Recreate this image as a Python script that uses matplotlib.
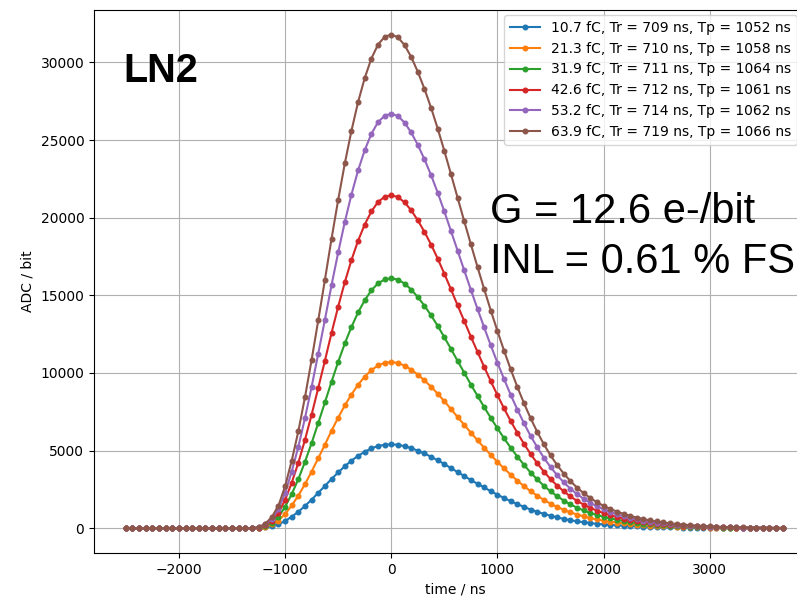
import matplotlib.pyplot as plt
import numpy as np

# sampling grid: 62.5 ns steps, 100 samples from -2500 ns
t_start = -2500
t_step = 62.5
n_samples = 100

labels = [
    '10.7 fC, Tr = 709 ns, Tp = 1052 ns',
    '21.3 fC, Tr = 710 ns, Tp = 1058 ns',
    '31.9 fC, Tr = 711 ns, Tp = 1064 ns',
    '42.6 fC, Tr = 712 ns, Tp = 1061 ns',
    '53.2 fC, Tr = 714 ns, Tp = 1062 ns',
    '63.9 fC, Tr = 719 ns, Tp = 1066 ns',
]

baseline = [0, 0, 0, 0, 0, 0, 0, 0, 0, 0, 0, 0, 0, 0, 0, 0, 0, 0, 0, 0]

adc_10p7 = baseline + [
    10, 50, 120, 250, 460, 740, 1060, 1430, 1840, 2280, 2720, 3170, 3590, 3990,
    4350, 4660, 4920, 5140, 5290, 5370, 5400, 5370, 5280, 5160, 4990, 4810,
    4600, 4370, 4130, 3870, 3610, 3360, 3100, 2860, 2620, 2380, 2160, 1940,
    1740, 1550, 1370, 1200, 1050, 920, 800, 690, 600, 510, 440, 380, 330, 280,
    240, 210, 180, 160, 130, 120, 100, 80, 70, 60, 50, 50, 40, 30, 30, 20, 20,
    20, 10, 10, 10, 10, 10, 10, 0, 0, 0, 0]

adc_21p3 = baseline + [
    20, 90, 240, 490, 910, 1460, 2100, 2840, 3650, 4510, 5380, 6280, 7120, 7910,
    8610, 9240, 9760, 10180, 10480, 10650, 10700, 10640, 10470, 10220, 9890,
    9520, 9110, 8660, 8180, 7670, 7160, 6650, 6150, 5660, 5180, 4720, 4270,
    3850, 3440, 3060, 2710, 2380, 2090, 1820, 1580, 1370, 1180, 1020, 880, 760,
    650, 560, 480, 420, 360, 310, 270, 230, 200, 170, 140, 120, 110, 90, 80,
    70, 60, 50, 40, 30, 30, 20, 20, 20, 10, 10, 10, 10, 10, 10]

adc_31p9 = baseline + [
    30, 140, 360, 730, 1370, 2200, 3160, 4280, 5490, 6780, 8100, 9440, 10710,
    11900, 12960, 13900, 14680, 15320, 15770, 16020, 16100, 16010, 15760,
    15370, 14890, 14330, 13710, 13030, 12300, 11540, 10770, 10010, 9250, 8520,
    7800, 7100, 6430, 5790, 5180, 4610, 4080, 3580, 3140, 2730, 2370, 2060,
    1780, 1530, 1320, 1140, 980, 850, 730, 630, 540, 470, 400, 340, 300, 250,
    220, 190, 160, 140, 120, 100, 80, 70, 60, 50, 40, 40, 30, 30, 20, 20, 20,
    10, 10, 10]

adc_42p6 = baseline + [
    40, 190, 490, 980, 1820, 2930, 4220, 5700, 7320, 9040, 10790, 12580, 14270,
    15850, 17270, 18520, 19560, 20400, 21010, 21350, 21450, 21330, 20990,
    20480, 19830, 19090, 18270, 17360, 16390, 15380, 14350, 13340, 12330,
    11350, 10390, 9460, 8570, 7710, 6900, 6140, 5430, 4780, 4180, 3640, 3160,
    2740, 2370, 2040, 1760, 1520, 1310, 1130, 970, 840, 720, 620, 530, 460,
    390, 340, 290, 250, 210, 180, 160, 130, 110, 90, 80, 70, 60, 50, 40, 30,
    30, 20, 20, 20, 10, 10]

adc_53p2 = baseline + [
    50, 240, 600, 1220, 2270, 3650, 5250, 7100, 9110, 11250, 13430, 15660,
    17760, 19730, 21490, 23050, 24350, 25400, 26150, 26570, 26700, 26550,
    26130, 25490, 24690, 23760, 22740, 21610, 20400, 19140, 17870, 16600,
    15350, 14120, 12930, 11770, 10660, 9600, 8590, 7640, 6760, 5940, 5210,
    4530, 3940, 3410, 2950, 2540, 2190, 1890, 1630, 1400, 1210, 1040, 900, 770,
    660, 570, 490, 420, 360, 310, 260, 230, 190, 160, 140, 120, 100, 80, 70,
    60, 50, 40, 40, 30, 30, 20, 20, 10]

adc_63p9 = baseline + [
    60, 280, 720, 1450, 2700, 4350, 6250, 8450, 10850, 13400, 16000, 18650,
    21150, 23500, 25600, 27450, 29000, 30250, 31150, 31650, 31800, 31620,
    31120, 30360, 29400, 28300, 27080, 25740, 24300, 22800, 21280, 19770,
    18280, 16820, 15400, 14020, 12700, 11430, 10230, 9100, 8050, 7080, 6200,
    5400, 4690, 4060, 3510, 3030, 2610, 2250, 1940, 1670, 1440, 1240, 1070,
    920, 790, 680, 585, 500, 430, 370, 315, 270, 230, 195, 165, 140, 120, 100,
    85, 70, 60, 50, 42, 35, 30, 25, 20, 17]

series = [adc_10p7, adc_21p3, adc_31p9, adc_42p6, adc_53p2, adc_63p9]
t = t_start + t_step * np.arange(n_samples)

fig = plt.figure(figsize=(7.97, 5.98), dpi=100)
ax = fig.add_axes([94 / 797, 45 / 598, 723 / 797, 543 / 598])

for adc, lab in zip(series, labels):
    ax.plot(t, adc, marker='o', ms=3.3, lw=1.5, label=lab)

ax.set_xlim(-2800, 4010)
ax.set_ylim(-1600, 33380)
ax.set_xticks([-2000, -1000, 0, 1000, 2000, 3000])
ax.grid(True)
ax.set_xlabel('time / ns')
ax.set_ylabel('ADC / bit')
# legend pinned to the figure's right edge so every entry stays readable
ax.legend(loc='upper right', bbox_to_anchor=(1.0, 1 - 15 / 598),
          bbox_transform=fig.transFigure, borderaxespad=0.0,
          handlelength=2.2)

fig.text(123 / 797, 1 - 82 / 598, 'LN2', family='Liberation Sans',
         fontweight='bold', fontsize=28.5, va='baseline')
fig.text(490 / 797, 1 - 222.7 / 598, 'G = 12.6 e-/bit', family='Liberation Sans',
         fontsize=30, va='baseline')
fig.text(490 / 797, 1 - 273.3 / 598, 'INL = 0.61 % FS', family='Liberation Sans',
         fontsize=30, va='baseline')

fig.savefig('out.png', dpi=100)
